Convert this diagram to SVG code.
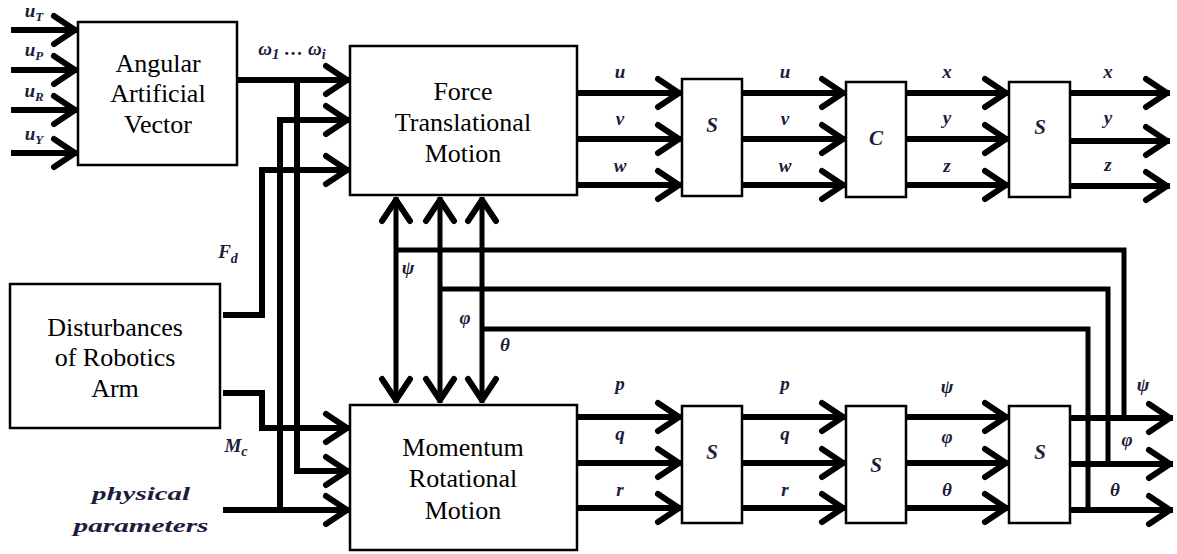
<svg xmlns="http://www.w3.org/2000/svg" width="1177" height="554" viewBox="0 0 1177 554">
<style>
.box{fill:#fff;stroke:#000;stroke-width:2.5}
.t{font-family:"Liberation Serif","Times New Roman",serif;font-size:26px;fill:#000;text-anchor:middle}
.m{font-family:"Liberation Serif","Times New Roman",serif;font-size:19px;font-style:italic;font-weight:bold;fill:#1c1c3c;text-anchor:middle}
.s{font-family:"Liberation Serif","Times New Roman",serif;font-size:21px;font-style:italic;font-weight:bold;fill:#1c1c3c;text-anchor:middle}
.w{fill:none;stroke:#000;stroke-width:6;stroke-linejoin:miter}
.fb{fill:none;stroke:#000;stroke-width:5}
</style>
<defs>
<marker id="ah" markerUnits="userSpaceOnUse" viewBox="-30 -20 34 40" markerWidth="34" markerHeight="40" refX="0" refY="0" orient="auto-start-reverse" overflow="visible">
<path d="M-24,-14 L-3,0 L-24,14" fill="none" stroke="#000" stroke-width="6" stroke-linecap="round" stroke-linejoin="round"/>
</marker>
</defs>

<g id="connectors">
<path class="w" d="M11,30 H78" marker-end="url(#ah)"/>
<path class="w" d="M11,70 H78" marker-end="url(#ah)"/>
<path class="w" d="M11,110 H78" marker-end="url(#ah)"/>
<path class="w" d="M11,153 H78" marker-end="url(#ah)"/>
<path class="w" d="M238,80 H350" marker-end="url(#ah)"/>
<path class="w" d="M297,80 V471 H350" marker-end="url(#ah)"/>
<path class="w" d="M223,510 H350" marker-end="url(#ah)"/>
<path class="w" d="M280,510 V120 H350" marker-end="url(#ah)"/>
<path class="w" d="M223,315 H262 V170 H350" marker-end="url(#ah)"/>
<path class="w" d="M223,393 H262 V428 H350" marker-end="url(#ah)"/>
<path class="w" d="M577,93 H682" marker-end="url(#ah)"/>
<path class="w" d="M577,139 H682" marker-end="url(#ah)"/>
<path class="w" d="M577,185 H682" marker-end="url(#ah)"/>
<path class="w" d="M742,93 H846" marker-end="url(#ah)"/>
<path class="w" d="M742,139 H846" marker-end="url(#ah)"/>
<path class="w" d="M742,185 H846" marker-end="url(#ah)"/>
<path class="w" d="M906,93 H1009" marker-end="url(#ah)"/>
<path class="w" d="M906,139 H1009" marker-end="url(#ah)"/>
<path class="w" d="M906,185 H1009" marker-end="url(#ah)"/>
<path class="w" d="M1070,93 H1170" marker-end="url(#ah)"/>
<path class="w" d="M1070,141 H1170" marker-end="url(#ah)"/>
<path class="w" d="M1070,186 H1170" marker-end="url(#ah)"/>
<path class="w" d="M577,417 H682" marker-end="url(#ah)"/>
<path class="w" d="M577,463 H682" marker-end="url(#ah)"/>
<path class="w" d="M577,508 H682" marker-end="url(#ah)"/>
<path class="w" d="M742,417 H846" marker-end="url(#ah)"/>
<path class="w" d="M742,463 H846" marker-end="url(#ah)"/>
<path class="w" d="M742,508 H846" marker-end="url(#ah)"/>
<path class="w" d="M906,417 H1009" marker-end="url(#ah)"/>
<path class="w" d="M906,463 H1009" marker-end="url(#ah)"/>
<path class="w" d="M906,508 H1009" marker-end="url(#ah)"/>
<path class="w" d="M1070,418 H1173" marker-end="url(#ah)"/>
<path class="w" d="M1070,464 H1173" marker-end="url(#ah)"/>
<path class="w" d="M1070,510 H1173" marker-end="url(#ah)"/>
<path class="fb" d="M396,250 H1124 V418"/>
<path class="fb" d="M440,289 H1108 V464"/>
<path class="fb" d="M482,329 H1088 V510"/>
<path class="fb" d="M396,197 V403" marker-start="url(#ah)" marker-end="url(#ah)"/>
<path class="fb" d="M440,197 V403" marker-start="url(#ah)" marker-end="url(#ah)"/>
<path class="fb" d="M482,197 V403" marker-start="url(#ah)" marker-end="url(#ah)"/>
</g>

<g id="aav">
<rect class="box" x="78" y="22" width="159" height="143"/>
<text class="t" x="158" y="72">Angular</text>
<text class="t" x="158" y="102">Artificial</text>
<text class="t" x="158" y="133">Vector</text>
</g>
<g id="force">
<rect class="box" x="350" y="46" width="227" height="149"/>
<text class="t" x="463" y="100">Force</text>
<text class="t" x="463" y="131">Translational</text>
<text class="t" x="463" y="162">Motion</text>
</g>
<g id="disturbances">
<rect class="box" x="10" y="284" width="210" height="144"/>
<text class="t" x="115" y="336">Disturbances</text>
<text class="t" x="115" y="366">of Robotics</text>
<text class="t" x="115" y="397">Arm</text>
</g>
<g id="momentum">
<rect class="box" x="350" y="405" width="227" height="145"/>
<text class="t" x="463" y="456">Momentum</text>
<text class="t" x="463" y="487">Rotational</text>
<text class="t" x="463" y="519">Motion</text>
</g>
<g id="s1"><rect class="box" x="682" y="79" width="60" height="117"/><text class="s" x="712" y="132">S</text></g>
<g id="c1"><rect class="box" x="846" y="82" width="60" height="115"/><text class="s" x="876" y="145">C</text></g>
<g id="s2"><rect class="box" x="1009" y="82" width="61" height="115"/><text class="s" x="1040" y="134">S</text></g>
<g id="s3"><rect class="box" x="682" y="406" width="60" height="117"/><text class="s" x="712" y="459">S</text></g>
<g id="s4"><rect class="box" x="846" y="406" width="60" height="117"/><text class="s" x="876" y="472">S</text></g>
<g id="s5"><rect class="box" x="1009" y="406" width="61" height="117"/><text class="s" x="1040" y="459">S</text></g>

<g id="labels">
<text class="m" x="34" y="17">u<tspan font-size="13" dy="4">T</tspan></text>
<text class="m" x="34" y="56">u<tspan font-size="13" dy="4">P</tspan></text>
<text class="m" x="34" y="97">u<tspan font-size="13" dy="4">R</tspan></text>
<text class="m" x="34" y="140">u<tspan font-size="13" dy="4">Y</tspan></text>
<text class="m" x="292" y="55" font-size="21">ω<tspan font-size="15" dy="4">1</tspan><tspan dy="-4"> … ω</tspan><tspan font-size="14" dy="4">i</tspan></text>
<text class="m" x="228" y="258" font-size="20">F<tspan font-size="14" dy="5">d</tspan></text>
<text class="m" x="236" y="452" font-size="20">M<tspan font-size="14" dy="4">c</tspan></text>
<text class="m" x="141" y="500" font-size="22" textLength="98" lengthAdjust="spacingAndGlyphs">physical</text>
<text class="m" x="141" y="532" font-size="22" textLength="135" lengthAdjust="spacingAndGlyphs">parameters</text>
<text class="m" x="620" y="78">u</text>
<text class="m" x="620" y="125">v</text>
<text class="m" x="620" y="172">w</text>
<text class="m" x="785" y="78">u</text>
<text class="m" x="785" y="125">v</text>
<text class="m" x="785" y="172">w</text>
<text class="m" x="947" y="78">x</text>
<text class="m" x="947" y="124">y</text>
<text class="m" x="947" y="172">z</text>
<text class="m" x="1108" y="78">x</text>
<text class="m" x="1108" y="124">y</text>
<text class="m" x="1108" y="171">z</text>
<text class="m" x="620" y="390">p</text>
<text class="m" x="620" y="440">q</text>
<text class="m" x="620" y="496">r</text>
<text class="m" x="785" y="390">p</text>
<text class="m" x="785" y="440">q</text>
<text class="m" x="785" y="496">r</text>
<text class="m" x="947" y="393">ψ</text>
<text class="m" x="947" y="443">φ</text>
<text class="m" x="947" y="496">θ</text>
<text class="m" x="1143" y="391">ψ</text>
<text class="m" x="1127" y="446">φ</text>
<text class="m" x="1115" y="496">θ</text>
<text class="m" x="408" y="274">ψ</text>
<text class="m" x="465" y="324">φ</text>
<text class="m" x="505" y="351">θ</text>
</g>
</svg>
